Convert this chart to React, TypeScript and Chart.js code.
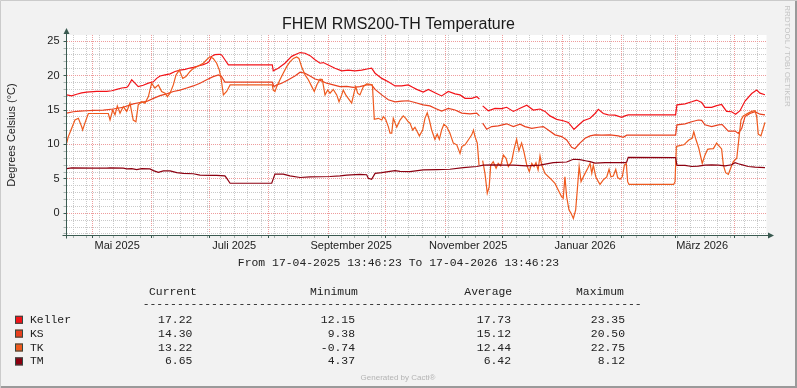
import React, { useEffect, useRef } from "react";
import { Chart, registerables } from "chart.js";

Chart.register(...registerables);

// ---------------- text ----------------
const chartTitle = "FHEM RMS200-TH Temperature";
const yAxisTitle = "Degrees Celsius (°C)";
const periodText = "From 17-04-2025 13:46:23 To 17-04-2026 13:46:23";
const sideText = "RRDTOOL / TOBI OETIKER";
const footerText = "Generated by Cacti®";

// ---------------- time axis ----------------
const periodStartUtc = Date.UTC(2025, 3, 17, 13, 46, 23);
const periodDays = 365;
const monthGridDates = [
  "2025-05-01", "2025-06-01", "2025-07-01", "2025-08-01", "2025-09-01", "2025-10-01",
  "2025-11-01", "2025-12-01", "2026-01-01", "2026-02-01", "2026-03-01", "2026-04-01",
];
const firstWeekGridDate = "2025-04-21";
const monthLabelDates = ["2025-05-14", "2025-07-14", "2025-09-13", "2025-11-13", "2026-01-13", "2026-03-15"];
const monthLabels = ["Mai 2025", "Juli 2025", "September 2025", "November 2025", "Januar 2026", "März 2026"];

// ---------------- value axis ----------------
const yMin = -3.15;
const yMax = 25.9;
const yMinorStep = 1;
const yLabelValues = [0, 5, 10, 15, 20, 25];

// ---------------- series: [day since start, °C] ----------------
const kellerSeries: [number, number | null][] = [
  [0.1,17.2],[2.7,17.05],[5.3,17.3],[7.9,17.5],[10.5,17.6],[15.7,17.7],[21.0,17.7],[23.6,17.8],[26.2,18.0],[28.8,18.2],
  [31.4,18.3],[32.2,18.5],[34.0,19.4],[35.7,18.9],[37.4,18.4],[40.0,18.6],[42.7,18.9],[45.3,19.1],[47.0,19.6],[48.8,19.95],
  [51.4,20.1],[54.0,20.25],[56.6,20.6],[59.2,20.8],[61.8,20.9],[64.4,21.1],[66.1,21.2],[68.7,21.4],[71.3,21.6],[73.1,21.8],
  [74.3,22.0],[75.7,22.8],[77.4,23.05],[79.7,23.1],[80.9,23.0],[82.6,22.3],[84.4,21.55],[107.3,21.55],[107.8,20.7],[110.4,21.07],
  [113.9,21.8],[117.4,22.8],[120.0,23.15],[121.8,23.35],[124.4,23.25],[127.0,22.9],[129.6,22.3],[132.2,21.8],[133.9,21.9],[136.5,21.55],
  [140.0,21.07],[143.5,20.7],[146.9,20.8],[150.4,20.7],[153.9,20.8],[157.4,21.0],[159.1,21.07],[160.9,20.35],[164.4,19.6],[167.8,19.1],
  [171.3,18.5],[174.8,18.5],[178.2,18.65],[180.5,18.3],[182.6,18.0],[186.0,17.6],[188.7,18.0],[192.1,17.5],[195.6,17.05],[199.1,17.7],
  [202.6,17.35],[205.2,17.2],[207.8,16.7],[211.3,16.7],[213.9,16.95],[215.3,16.6],[216.1,null],[217.0,15.6],[219.9,14.9],[223.4,15.25],
  [226.9,15.2],[229.5,15.4],[233.0,14.8],[236.5,15.25],[240.0,15.7],[243.4,15.0],[246.9,15.15],[249.5,14.8],[252.1,14.15],[255.6,13.65],
  [259.0,13.45],[261.7,13.2],[264.6,12.2],[266.9,12.8],[269.5,13.45],[273.0,13.8],[275.6,14.5],[277.3,15.1],[279.9,14.5],[282.5,14.3],
  [286.0,14.25],[289.5,13.95],[291.2,14.15],[292.9,14.3],[317.6,14.3],[318.3,15.75],[322.5,15.9],[326.0,16.2],[328.6,16.45],[331.2,16.1],
  [332.9,15.4],[336.4,15.4],[339.0,15.65],[341.6,15.8],[344.2,14.8],[346.8,14.75],[348.9,14.4],[351.2,14.9],[353.8,16.3],[357.3,17.4],
  [359.9,17.9],[361.6,17.45],[364.2,17.22],
];

const ksSeries: [number, number | null][] = [
  [0.1,14.55],[3.5,14.75],[7.0,14.85],[10.5,14.9],[14.0,14.95],[19.2,15.0],[24.4,15.15],[29.6,15.4],[34.8,15.9],[38.3,16.1],
  [41.8,16.25],[45.3,16.7],[48.8,17.1],[52.2,17.35],[55.7,17.7],[59.2,17.9],[62.7,18.2],[66.1,18.5],[69.6,18.9],[73.1,19.4],
  [76.5,19.85],[79.2,20.1],[80.9,19.85],[82.6,19.05],[107.3,19.05],[108.2,18.4],[109.6,18.65],[112.2,18.9],[115.7,19.4],[119.1,19.95],
  [121.8,20.5],[124.4,20.35],[127.0,19.95],[129.6,19.5],[132.2,19.3],[135.7,18.9],[139.1,18.65],[142.6,18.4],[146.1,18.45],[149.5,18.3],
  [153.0,18.4],[156.5,18.65],[159.1,18.65],[160.9,18.0],[164.4,17.2],[167.8,16.5],[171.3,16.2],[174.8,16.3],[178.2,16.35],[181.7,16.1],
  [186.0,15.75],[189.5,15.6],[192.1,15.25],[195.6,14.85],[199.1,15.25],[202.6,15.0],[206.1,14.55],[210.4,14.45],[213.9,14.55],[215.3,14.15],
  [216.1,null],[217.0,13.1],[219.1,12.2],[221.7,12.6],[225.1,12.7],[229.5,13.0],[233.0,12.6],[236.5,12.95],[239.1,12.6],[242.6,12.35],
  [246.0,12.5],[248.6,12.6],[251.2,12.1],[254.7,11.4],[258.2,11.15],[260.8,10.65],[263.4,9.6],[265.1,9.38],[267.7,10.2],[270.4,10.9],
  [273.0,11.25],[275.6,11.4],[279.1,11.35],[283.4,11.4],[287.7,11.25],[290.3,11.05],[292.1,11.35],[317.6,11.35],[318.3,12.85],[322.5,13.0],
  [326.0,13.3],[329.4,13.55],[331.2,13.5],[332.9,12.85],[336.4,12.6],[339.9,12.85],[341.9,12.9],[345.1,11.95],[348.6,11.95],[350.3,11.6],
  [352.1,12.35],[353.8,14.05],[356.4,14.5],[359.0,14.75],[361.6,14.4],[364.2,14.3],
];

const tkSeries: [number, number | null][] = [
  [0.1,10.2],[0.9,11.1],[2.7,12.35],[4.4,13.55],[6.2,13.8],[7.9,12.6],[8.4,12.1],[9.6,13.1],[10.5,13.8],[11.4,14.5],
  [14.0,14.5],[21.8,14.5],[22.7,13.55],[24.1,15.0],[25.3,14.3],[26.5,15.6],[27.9,14.55],[29.6,15.5],[31.4,14.8],[33.1,16.0],
  [34.8,13.55],[36.2,13.3],[37.4,15.75],[39.2,16.2],[40.9,16.0],[42.7,16.95],[44.4,18.9],[46.1,18.2],[47.9,18.65],[49.6,17.7],
  [51.4,17.45],[52.6,16.95],[54.0,17.45],[55.7,18.65],[57.1,20.1],[58.8,20.8],[60.6,19.6],[62.3,19.85],[64.4,20.6],[66.1,21.05],
  [67.9,21.3],[69.6,21.55],[71.3,21.8],[73.1,22.3],[74.8,22.75],[76.5,22.5],[78.3,21.8],[79.7,20.8],[80.7,19.4],[81.8,17.2],
  [83.5,17.7],[85.3,18.65],[107.3,18.65],[107.8,17.9],[108.7,17.7],[109.6,18.4],[111.3,19.4],[113.0,20.35],[114.8,21.3],[116.5,22.0],
  [118.3,22.5],[120.0,22.7],[121.2,22.5],[122.6,21.3],[124.4,20.1],[126.1,19.4],[127.9,18.4],[129.2,17.7],[130.5,18.65],[132.2,19.5],
  [133.4,19.45],[134.8,17.2],[136.2,17.9],[137.4,17.45],[139.1,18.0],[140.9,17.2],[142.1,16.2],[143.5,17.2],[144.3,17.9],[145.6,17.2],
  [146.9,16.7],[148.7,16.0],[150.1,17.7],[150.8,18.4],[151.8,17.45],[153.0,17.2],[154.8,18.4],[156.5,18.8],[158.3,18.75],[159.5,18.65],
  [160.5,13.65],[162.6,13.8],[164.4,13.55],[165.2,14.05],[166.4,13.65],[167.8,12.6],[168.7,11.65],[169.6,11.65],[170.4,13.8],[172.2,12.5],
  [173.9,13.55],[175.6,14.15],[176.9,13.8],[178.2,13.3],[179.1,13.1],[180.5,12.1],[181.7,12.5],[182.9,11.85],[184.0,11.25],[185.7,12.1],
  [186.9,13.8],[188.1,14.6],[189.2,13.55],[190.4,12.1],[192.1,10.75],[193.3,11.5],[194.4,10.75],[195.6,12.1],[196.8,12.95],[198.2,12.6],
  [199.9,11.65],[201.7,10.2],[203.5,9.95],[205.2,8.7],[206.1,9.7],[207.8,9.95],[209.5,10.65],[211.3,11.4],[212.2,12.1],[213.0,11.15],
  [214.2,10.2],[215.1,7.0],[216.1,null],[217.0,7.65],[218.2,5.8],[219.4,2.9],[220.4,3.85],[221.2,7.0],[222.5,7.5],[224.0,6.55],
  [225.1,7.25],[226.4,6.9],[227.8,8.45],[229.2,8.0],[230.4,6.8],[232.1,7.5],[233.3,9.2],[234.7,10.75],[235.9,9.1],[237.3,10.2],
  [238.5,8.95],[240.0,7.0],[241.3,6.05],[242.6,7.25],[243.8,6.8],[244.8,7.35],[245.9,6.3],[246.9,8.35],[247.8,7.0],[249.5,5.8],
  [252.1,5.1],[254.7,4.35],[256.4,3.4],[258.2,2.4],[259.0,2.2],[259.9,5.3],[260.8,2.4],[262.0,0.5],[263.1,0.0],[264.3,-0.74],
  [265.5,0.5],[266.4,3.6],[267.3,6.8],[268.3,4.6],[269.5,5.3],[270.4,5.8],[271.8,6.55],[273.0,7.25],[273.9,5.8],[274.7,7.0],
  [276.0,5.3],[277.3,4.6],[278.2,4.2],[279.9,4.85],[281.7,5.3],[282.9,6.4],[283.9,5.3],[285.1,5.4],[286.4,6.4],[287.4,5.2],
  [288.6,4.95],[289.8,5.3],[290.9,7.0],[291.9,7.25],[292.6,4.6],[293.3,4.2],[316.6,4.2],[317.3,4.6],[318.0,9.7],[319.2,9.8],
  [321.9,9.95],[324.5,10.65],[326.2,10.9],[327.1,11.85],[328.0,10.9],[329.7,9.45],[331.5,7.25],[332.9,8.45],[334.3,9.3],[335.5,9.35],
  [337.3,9.4],[339.0,10.2],[340.2,9.8],[341.6,9.35],[342.5,7.0],[343.7,5.9],[345.1,5.65],[346.5,6.7],[347.7,7.5],[349.5,8.0],
  [350.7,11.1],[351.7,13.55],[352.9,14.15],[355.5,14.55],[357.3,14.8],[359.0,14.9],[359.9,14.05],[360.7,11.5],[362.1,11.25],[363.3,12.35],
  [364.2,13.22],
];

const tmSeries: [number, number | null][] = [
  [0.1,6.5],[2.7,6.6],[14.0,6.55],[21.0,6.55],[22.7,6.6],[29.6,6.55],[31.4,6.45],[34.0,6.5],[36.6,6.35],[39.2,6.5],
  [43.5,6.45],[45.3,6.2],[47.9,5.95],[50.5,6.15],[54.0,6.15],[57.5,5.9],[60.9,5.8],[66.1,5.75],[69.6,5.55],[74.8,5.5],
  [78.3,5.5],[82.6,5.45],[83.5,5.1],[85.3,4.37],[107.0,4.37],[108.7,5.7],[113.0,5.7],[116.5,5.45],[121.8,5.2],[127.0,5.3],
  [137.4,5.35],[142.6,5.45],[146.1,5.55],[153.0,5.65],[156.5,5.6],[157.4,5.1],[159.1,4.95],[160.9,5.8],[164.4,5.9],[167.8,6.05],
  [171.3,6.2],[173.9,6.1],[179.1,6.05],[186.0,6.3],[193.0,6.35],[199.9,6.4],[206.9,6.65],[213.9,6.8],[217.3,7.0],[222.5,7.05],
  [227.8,7.0],[233.0,7.0],[240.0,6.9],[246.9,7.0],[253.8,7.35],[260.8,7.45],[264.3,7.85],[267.7,7.8],[271.2,7.6],[273.0,7.5],
  [275.6,7.3],[280.8,7.35],[287.7,7.35],[291.2,7.35],[292.1,7.45],[292.9,8.12],[317.6,8.08],[318.3,6.95],[322.5,6.95],[326.0,6.8],
  [329.4,6.85],[332.9,7.0],[336.4,7.05],[339.9,7.0],[343.4,6.9],[346.8,7.05],[348.6,7.35],[350.3,7.2],[352.9,7.0],[355.5,6.8],
  [359.0,6.7],[364.2,6.65],
];

// ---------------- legend table ----------------
const seriesNames = ["Keller", "KS", "TK", "TM"];
const seriesColors = ["#F21318", "#E8401E", "#EE5A1E", "#8C0010"];
const currentValues = [17.22, 14.3, 13.22, 6.65];
const minimumValues = [12.15, 9.38, -0.74, 4.37];
const averageValues = [17.73, 15.12, 12.44, 6.42];
const maximumValues = [23.35, 20.5, 22.75, 8.12];
const columnHeaders = ["Current", "Minimum", "Average", "Maximum"];

// ---------------- styling ----------------
const SANS = '"Liberation Sans", Arial, sans-serif';
const MONO = '"Liberation Mono", "DejaVu Sans Mono", monospace';
const GRID_MINOR = "#C9C9C9";
const GRID_MAJOR = "#EE9C9C";
const AXIS = "#3A5A50";
const TEXT = "#222222";

const dayOf = (iso: string) => {
  const [y, m, d] = iso.split("-").map(Number);
  return (Date.UTC(y, m - 1, d) - periodStartUtc) / 86400000;
};

const rrdDecor = {
  id: "rrdDecor",
  beforeDraw(chart: any) {
    const { ctx, chartArea: a, width, height } = chart;
    ctx.save();
    ctx.fillStyle = "#F2F2F2";
    ctx.fillRect(0, 0, width, height);
    ctx.fillStyle = "#FFFFFF";
    ctx.fillRect(a.left, a.top, a.right - a.left, a.bottom - a.top);
    ctx.restore();
  },
  afterDraw(chart: any) {
    const { ctx, chartArea: a, width, height } = chart;
    ctx.save();
    // frame
    ctx.lineWidth = 1;
    ctx.strokeStyle = "#CBCBCB";
    ctx.beginPath();
    ctx.moveTo(0.5, height);
    ctx.lineTo(0.5, 0.5);
    ctx.lineTo(width, 0.5);
    ctx.stroke();
    ctx.strokeStyle = "#9A9A9A";
    ctx.lineWidth = 2;
    ctx.beginPath();
    ctx.moveTo(1, height - 1);
    ctx.lineTo(width - 1, height - 1);
    ctx.lineTo(width - 1, 1);
    ctx.stroke();

    // axes with arrows
    const ax = Math.floor(a.left) + 0.5;
    const ay = Math.round(a.bottom) + 0.5;
    ctx.strokeStyle = AXIS;
    ctx.fillStyle = AXIS;
    ctx.lineWidth = 1;
    ctx.beginPath();
    ctx.moveTo(ax, ay + 3);
    ctx.lineTo(ax, a.top - 2);
    ctx.moveTo(ax - 4, ay);
    ctx.lineTo(a.right + 2, ay);
    ctx.stroke();
    ctx.beginPath();
    ctx.moveTo(ax - 3, a.top - 1);
    ctx.lineTo(ax + 3, a.top - 1);
    ctx.lineTo(ax, a.top - 7);
    ctx.closePath();
    ctx.fill();
    ctx.beginPath();
    ctx.moveTo(a.right + 1.5, ay - 3);
    ctx.lineTo(a.right + 1.5, ay + 3);
    ctx.lineTo(a.right + 7.5, ay);
    ctx.closePath();
    ctx.fill();

    // title
    ctx.fillStyle = "#1A1A1A";
    ctx.font = `16px ${SANS}`;
    ctx.textAlign = "center";
    ctx.textBaseline = "alphabetic";
    ctx.fillText(chartTitle, width / 2, 28.5);

    // y title
    ctx.save();
    ctx.translate(14.5, (a.top + a.bottom) / 2);
    ctx.rotate(-Math.PI / 2);
    ctx.font = `11px ${SANS}`;
    ctx.fillStyle = TEXT;
    ctx.textAlign = "center";
    ctx.fillText(yAxisTitle, 0, 0);
    ctx.restore();

    // side watermark
    ctx.save();
    ctx.translate(785, 56);
    ctx.rotate(Math.PI / 2);
    ctx.font = `8px ${SANS}`;
    ctx.fillStyle = "#C4C4C4";
    ctx.textAlign = "center";
    ctx.fillText(sideText, 0, 0);
    ctx.restore();

    // period comment
    ctx.font = `11.4px ${MONO}`;
    ctx.fillStyle = TEXT;
    ctx.textAlign = "center";
    ctx.fillText(periodText, width / 2, 266);

    // legend table
    ctx.textAlign = "left";
    const headerX = [149, 310, 464.3, 576];
    columnHeaders.forEach((h, i) => ctx.fillText(h, headerX[i], 294.5));
    ctx.fillText("-".repeat(73), 142.7, 306.7);
    const rowY = [322.8, 336.6, 350.5, 364.4];
    const colRight = [192.3, 355, 511, 625];
    const cols = [currentValues, minimumValues, averageValues, maximumValues];
    seriesNames.forEach((name, r) => {
      const by = rowY[r];
      ctx.fillStyle = seriesColors[r];
      ctx.fillRect(15, by - 7, 8, 8);
      ctx.strokeStyle = "#2E4A44";
      ctx.lineWidth = 1;
      ctx.strokeRect(15.5, by - 6.5, 7, 7);
      ctx.fillStyle = TEXT;
      ctx.textAlign = "left";
      ctx.fillText(name, 30, by);
      ctx.textAlign = "right";
      cols.forEach((c, ci) => ctx.fillText(c[r].toFixed(2), colRight[ci], by));
    });

    // footer
    ctx.font = `8px ${SANS}`;
    ctx.fillStyle = "#B4B4B4";
    ctx.textAlign = "center";
    ctx.fillText(footerText, width / 2 - 0.5, 380);
    ctx.restore();
  },
};

export default function App() {
  const ref = useRef<HTMLCanvasElement | null>(null);

  useEffect(() => {
    if (!ref.current) return;
    const monthDays = monthGridDates.map(dayOf);
    const weekDays: number[] = [];
    for (let d = dayOf(firstWeekGridDate); d < periodDays; d += 7) weekDays.push(d);
    const labelDays = monthLabelDates.map(dayOf);

    const toPoints = (s: [number, number | null][]) => s.map(([x, y]) => ({ x, y }));
    const allSeries = [kellerSeries, ksSeries, tkSeries, tmSeries];
    const datasets = allSeries.map((s, i) => ({
      label: seriesNames[i],
      data: toPoints(s),
      borderColor: seriesColors[i],
      backgroundColor: seriesColors[i],
      borderWidth: 1.2,
      pointRadius: 0,
      tension: 0,
      spanGaps: false,
      fill: false,
      order: allSeries.length - 1 - i,
    }));

    const chart = new Chart(ref.current, {
      type: "line",
      data: { datasets },
      plugins: [rrdDecor],
      options: {
        animation: false,
        responsive: false,
        devicePixelRatio: 1,
        events: [],
        layout: { padding: { left: 0, top: 35, right: 30.5, bottom: 133 } },
        plugins: { legend: { display: false }, tooltip: { enabled: false }, title: { display: false } },
        scales: {
          x: {
            type: "linear",
            min: 0,
            max: periodDays,
            afterFit: (s: any) => { s.height = 20; },
            afterBuildTicks: (s: any) => {
              const t: any[] = [];
              weekDays.forEach((d) => {
                if (!monthDays.some((m) => Math.abs(m - d) < 0.6)) t.push({ value: d, kind: "week" });
              });
              monthDays.forEach((d) => t.push({ value: d, kind: "month" }));
              labelDays.forEach((d, i) => t.push({ value: d, kind: "label", text: monthLabels[i] }));
              t.sort((p, q) => p.value - q.value);
              s.ticks = t;
            },
            ticks: {
              autoSkip: false,
              maxRotation: 0,
              minRotation: 0,
              padding: 1,
              color: TEXT,
              font: { family: SANS, size: 11 },
              callback: (_v: any, i: number, ticks: any[]) => ticks[i].text || "",
            },
            grid: {
              drawTicks: true,
              tickLength: 3,
              lineWidth: 1,
              color: (c: any) => {
                const k = c.tick && c.tick.kind;
                return k === "month" ? GRID_MAJOR : k === "week" ? GRID_MINOR : "rgba(0,0,0,0)";
              },
              tickColor: (c: any) => {
                const k = c.tick && c.tick.kind;
                return k === "month" ? AXIS : k === "week" ? "#A8B4B0" : "rgba(0,0,0,0)";
              },
            },
            border: { display: false, dash: [1, 1] },
          },
          y: {
            type: "linear",
            min: yMin,
            max: yMax,
            afterFit: (s: any) => { s.width = 66.5; },
            afterBuildTicks: (s: any) => {
              const t: any[] = [];
              for (let v = Math.ceil(yMin); v <= Math.floor(yMax); v += yMinorStep) {
                t.push({ value: v, isLabel: yLabelValues.includes(v) });
              }
              s.ticks = t;
            },
            ticks: {
              autoSkip: false,
              padding: 4,
              color: TEXT,
              font: { family: SANS, size: 11 },
              callback: (v: any) => (yLabelValues.includes(v) ? String(v) : ""),
            },
            grid: {
              drawTicks: true,
              tickLength: 3,
              lineWidth: 1,
              color: (c: any) => (c.tick && c.tick.isLabel ? GRID_MAJOR : GRID_MINOR),
              tickColor: (c: any) => (c.tick && c.tick.isLabel ? AXIS : "#A8B4B0"),
            },
            border: { display: false, dash: [1, 1] },
          },
        },
      } as any,
    });
    return () => chart.destroy();
  }, []);

  return (
    <div style={{ position: "absolute", left: 0, top: 0, width: 797, height: 388 }}>
      <canvas ref={ref} width={797} height={388} style={{ display: "block", width: 797, height: 388 }} />
    </div>
  );
}
